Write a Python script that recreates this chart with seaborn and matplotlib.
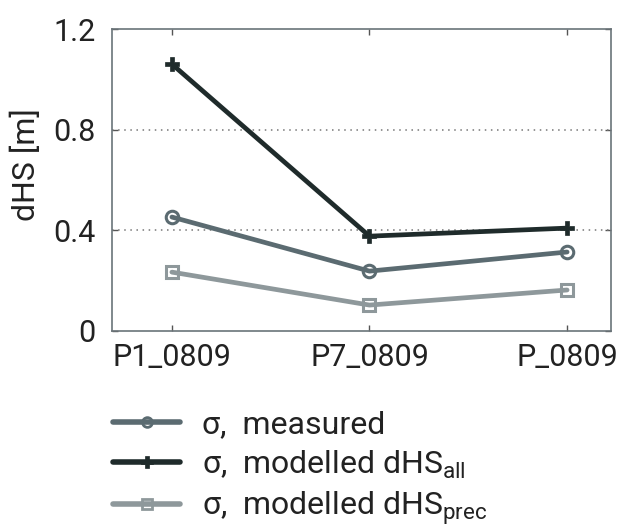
import matplotlib
matplotlib.use("Agg")
import matplotlib.pyplot as plt
import seaborn as sns
import pandas as pd
from matplotlib.lines import Line2D

profiles = ["P1_0809", "P7_0809", "P_0809"]
sigma_measured = [0.453, 0.238, 0.314]
sigma_model_all = [1.061, 0.377, 0.409]
sigma_model_prec = [0.234, 0.103, 0.163]

series_names = ["measured", "all", "prec"]
series_labels = [
    "σ,  measured",
    r"σ,  modelled dHS$_{\mathregular{all}}$",
    r"σ,  modelled dHS$_{\mathregular{prec}}$",
]
colors = {"measured": "#5b6b71", "all": "#1f2b2b", "prec": "#8e989b"}
markers = {"measured": "o", "all": "P", "prec": "s"}

df = pd.DataFrame({
    "profile": profiles * 3,
    "pos": list(range(3)) * 3,
    "dHS": sigma_measured + sigma_model_all + sigma_model_prec,
    "series": ["measured"] * 3 + ["all"] * 3 + ["prec"] * 3,
})

sns.set_theme(style="white")
plt.rcParams["font.family"] = ["Roboto", "Lato", "DejaVu Sans"]
plt.rcParams["font.weight"] = "normal"
plt.rcParams["mathtext.fontset"] = "custom"
plt.rcParams["mathtext.rm"] = "Roboto"

fig = plt.figure(figsize=(6.19, 5.30), dpi=100)
ax = fig.add_axes([0.181, 0.3755, 0.806, 0.5695])

for name in series_names:
    sub = df[df["series"] == name]
    mk = markers[name]
    sns.lineplot(
        data=sub, x="pos", y="dHS", ax=ax, color=colors[name],
        linewidth=3.4, marker=mk, markersize=9 if mk != "P" else 10,
        markerfacecolor="none" if mk != "P" else colors[name],
        markeredgecolor=colors[name], markeredgewidth=2.2 if mk != "P" else 0.5,
        legend=False, zorder=3,
    )

ax.set_xlim(-0.303, 2.222)
ax.set_ylim(0, 1.2)
ax.set_xticks(range(3))
ax.set_xticklabels(profiles)
ax.set_yticks([0, 0.4, 0.8, 1.2])
ax.set_yticklabels(["0", "0.4", "0.8", "1.2"])
ax.set_xlabel("")
ax.set_ylabel("dHS [m]", fontsize=23, color="#222222")
ax.yaxis.set_label_coords(-0.142, 0.55)

for yv in [0.4, 0.8]:
    ax.axhline(yv, color="#777777", linestyle=(0, (1, 3)), linewidth=1.1, zorder=1)

ax.tick_params(axis="both", which="major", direction="in", length=4, width=1,
               color="#555555", labelsize=22, labelcolor="#222222",
               top=True, right=True, bottom=True, left=True)
ax.tick_params(axis="y", pad=12)
ax.tick_params(axis="x", pad=9)
for sp in ax.spines.values():
    sp.set_color("#6a7479")
    sp.set_linewidth(1.2)

handles = []
for name in series_names:
    mk = markers[name]
    handles.append(Line2D([0], [0], color=colors[name], linewidth=4,
                          marker=mk, markersize=7 if mk != "P" else 9,
                          markerfacecolor="none" if mk != "P" else colors[name],
                          markeredgecolor=colors[name],
                          markeredgewidth=2 if mk != "P" else 0.5))
leg = fig.legend(handles, series_labels, loc="upper left",
                 bbox_to_anchor=(0.1826, 0.226), frameon=False,
                 borderpad=0, borderaxespad=0,
                 fontsize=23, handlelength=2.1, handletextpad=0.7,
                 labelspacing=0.28, labelcolor="#222222")

fig.savefig("out.png", dpi=100)
